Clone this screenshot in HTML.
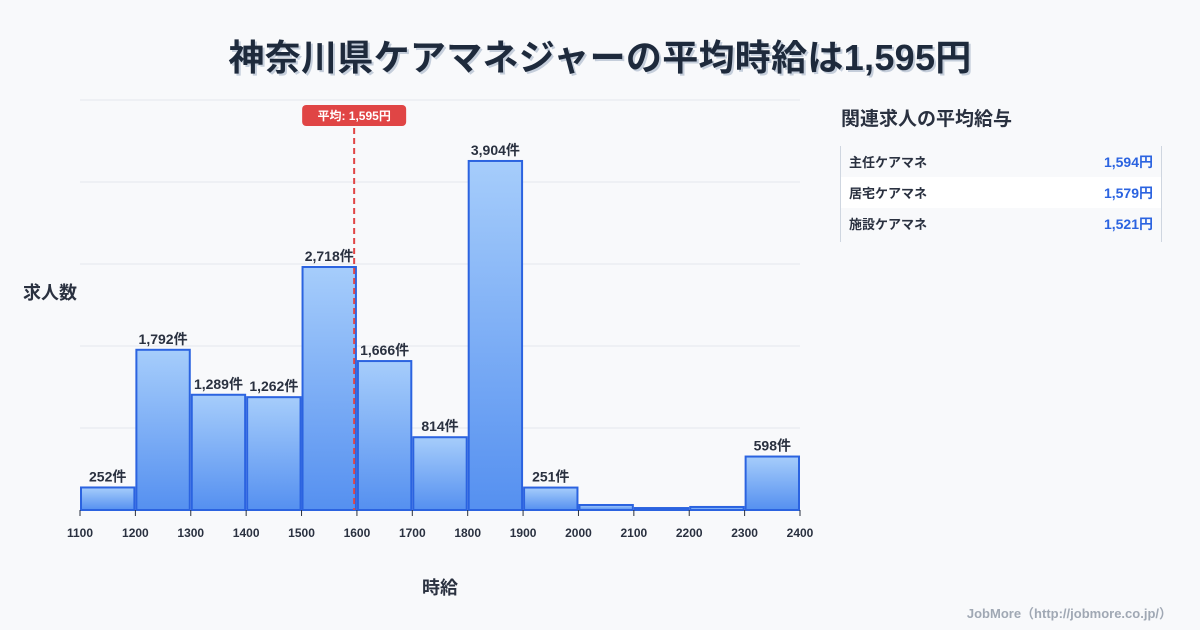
<!DOCTYPE html>
<html><head><meta charset="utf-8"><style>
body{margin:0;background:#f8f9fb;font-family:"Liberation Sans","Noto Sans CJK JP",sans-serif;}
#wrap{position:relative;width:1200px;height:630px;overflow:hidden;background:#f8f9fb;}
.title{position:absolute;top:29px;left:0;width:1200px;text-align:center;font-size:36px;font-weight:bold;color:#1e2a3c;text-shadow:2px 2px 0 #c5cedb;letter-spacing:0.3px;}
.panel-title{position:absolute;left:841px;top:104px;font-size:19px;font-weight:bold;color:#2a3140;}
.panel{position:absolute;left:840px;top:146px;width:320px;height:96px;border-left:1px solid #cfd6e0;border-right:1px solid #cfd6e0;}
.row{height:31px;display:flex;justify-content:space-between;align-items:center;padding:0 8px;font-size:13px;font-weight:bold;color:#2a3140;}
.row .v{color:#2b63e0;font-size:14px;}
.row.w{background:#fff;}
.foot{position:absolute;right:28px;top:603px;font-size:13px;color:#a0a8b4;font-weight:bold;}
</style></head><body>
<div id="wrap">
<div class="title">神奈川県ケアマネジャーの平均時給は1,595円</div>
<svg id="chart" width="1200" height="630" style="position:absolute;left:0;top:0">
<defs><linearGradient id="g" x1="0" y1="0" x2="0" y2="1"><stop offset="0" stop-color="#a6cdfb"/><stop offset="1" stop-color="#5590f0"/></linearGradient></defs>
</svg>
<div class="panel-title">関連求人の平均給与</div>
<div class="panel">
<div class="row"><span>主任ケアマネ</span><span class="v">1,594円</span></div>
<div class="row w"><span>居宅ケアマネ</span><span class="v">1,579円</span></div>
<div class="row"><span>施設ケアマネ</span><span class="v">1,521円</span></div>
</div>
<div class="foot">JobMore（http://jobmore.co.jp/）</div>
</div>
<script>
const binStarts=[1100,1200,1300,1400,1500,1600,1700,1800,1900,2000,2100,2200,2300];
const counts=[252,1792,1289,1262,2718,1666,814,3904,251,56,22,34,598];
const showLabel=[true,true,true,true,true,true,true,true,true,false,false,false,true];
const xTicks=[1100,1200,1300,1400,1500,1600,1700,1800,1900,2000,2100,2200,2300,2400];
const avgValue=1595;
const NS="http://www.w3.org/2000/svg";
const svg=document.getElementById('chart');
const X0=80,X1=800,Y0=510,Y1=100,xmin=1100,xmax=2400,ymax=4586;
const sx=v=>X0+(v-xmin)/(xmax-xmin)*(X1-X0);
const sy=v=>Y0-v/ymax*(Y0-Y1);
function mk(t,a){const e=document.createElementNS(NS,t);for(const k in a)e.setAttribute(k,a[k]);svg.appendChild(e);return e;}
for(let i=0;i<=5;i++){const y=Y1+i*(Y0-Y1)/5;const l=mk('line',{x1:X0,x2:X1,y1:y,y2:y,stroke:'#e3e7ee','stroke-width':1});

}
binStarts.forEach((b,i)=>{
const x=sx(b)+1,w=sx(b+100)-sx(b)-2,y=sy(counts[i]);
const r=mk('rect',{x:x,y:y,width:w,height:Y0-y,fill:'url(#g)',stroke:'#2b63e0','stroke-width':2});


if(showLabel[i]){const t=mk('text',{x:x+w/2,y:y-6,'text-anchor':'middle','font-size':14,'font-weight':'bold',fill:'#2a3140'});t.textContent=counts[i].toLocaleString('en-US')+'件';

}
});
xTicks.forEach(v=>{const x=sx(v);mk('line',{x1:x,x2:x,y1:Y0,y2:Y0+6,stroke:'#2a3140'});
const t=mk('text',{x:x,y:537,'text-anchor':'middle','font-size':12,'font-weight':'bold',fill:'#2a3140'});t.textContent=v;

});
const ax=sx(avgValue);
const al=mk('line',{x1:ax,x2:ax,y1:128,y2:Y0,stroke:'#e04545','stroke-width':2,'stroke-dasharray':'6,4'});


const bx=mk('rect',{x:ax-52,y:105,width:104,height:21,rx:4,fill:'#e04545'});


const bt=mk('text',{x:ax,y:120,'text-anchor':'middle','font-size':12,'font-weight':'bold',fill:'#fff'});bt.textContent='平均: '+avgValue.toLocaleString('en-US')+'円';
const xt=mk('text',{x:440,y:594,'text-anchor':'middle','font-size':18,'font-weight':'bold',fill:'#2a3140'});xt.textContent='時給';


const yt=mk('text',{x:50,y:299,'text-anchor':'middle','font-size':18,'font-weight':'bold',fill:'#2a3140'});yt.textContent='求人数';


</script>
</body></html>
